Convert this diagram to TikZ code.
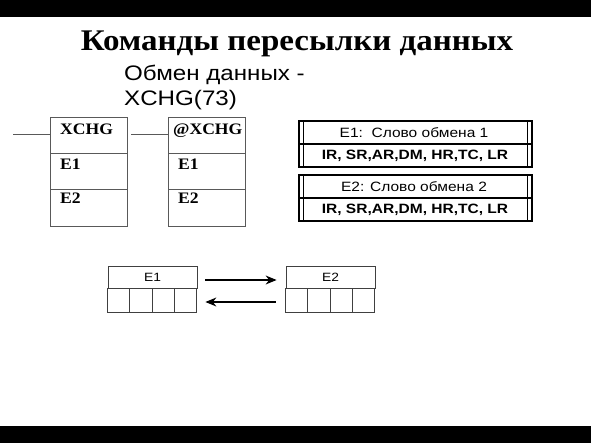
\documentclass[tikz,border=0pt]{standalone}
\usepackage{fontspec}
\setmainfont{Liberation Serif}
\setsansfont{Liberation Sans}
\newfontfamily\wideserif[FakeStretch=1.1]{Liberation Serif}
\newfontfamily\widesans[FakeStretch=1.15]{Liberation Sans}
\usetikzlibrary{arrows.meta,calc}

\begin{document}
\begin{tikzpicture}[x=1pt,y=-1pt,
    fbd/.style={draw=black!65, line width=0.9pt},
    word/.style={draw=black, line width=1.3pt},
    lbl/.style={font=\wideserif\bfseries\fontsize{16}{16}\selectfont, anchor=base west, inner sep=0pt},
    hdr/.style={draw=black!75, line width=0.8pt, minimum width=89pt, minimum height=22pt, inner sep=0pt, font=\widesans\fontsize{12}{12}\selectfont},
    arr/.style={line width=1.2pt, -{Stealth[length=11pt,width=9pt]}}]
    \useasboundingbox (0,0) rectangle (591,443);
    \fill[black] (0,0) rectangle (591,17);
    \fill[black] (0,426) rectangle (591,443);
    % headings
    \node[font=\wideserif\bfseries\fontsize{30}{30}\selectfont, anchor=base] (title) at (297,51) {Команды пересылки данных};
    \node[font=\widesans\fontsize{21}{25}\selectfont, anchor=north west, align=left, inner sep=0pt] (sub) at (124,65) {Обмен данных -\\XCHG(73)};
    % instruction blocks
    \foreach \x/\name/\dx [count=\i] in {50/XCHG/10, 168/@XCHG/5} {
      \draw[fbd] (\x,117) rectangle ++(77,109);
      \draw[fbd] (\x,153) -- ++(77,0);
      \draw[fbd] (\x,189) -- ++(77,0);
      \coordinate (rail\i) at (\x-37,134);
      \node[lbl] (op\i) at (\x+\dx,135) {\name};
      \node[lbl] (ea\i) at (\x+10,170) {E1};
      \node[lbl] (eb\i) at (\x+10,204) {E2};
      \draw[fbd] (rail\i) -- (\x,134);
    }
    % operand words
    \foreach \y/\t [count=\i] in {121/{E1:~~Слово обмена 1}, 175/{E2: Слово обмена 2}} {
      \draw[word] (299,\y) rectangle (532,\y+46);
      \draw[word] (303.5,\y) -- (303.5,\y+46);
      \draw[word] (527.5,\y) -- (527.5,\y+46);
      \draw[word] (299,\y+23) -- (532,\y+23);
      \node[font=\widesans\fontsize{13.5}{13.5}\selectfont] (cap\i) at (414,\y+11.5) {\t};
      \node[font=\widesans\bfseries\fontsize{13.5}{13.5}\selectfont] (area\i) at (415,\y+34.5) {IR, SR,AR,DM, HR,TC, LR};
    }
    % exchange
    \foreach \x/\t [count=\i] in {108/E1, 286/E2} {
      \node[hdr] (w\i) at (\x+44.5,277) {\t};
      \draw[black!75, line width=0.8pt] (w\i.south west) rectangle ++(89,24);
      \foreach \k in {1,2,3}
        \draw[black!75, line width=0.8pt] ($(w\i.south west)+(\k*22.25,0)$) -- ++(0,24);
    }
    \draw[arr] ([xshift=8pt,yshift=-3pt]w1.east) -- ([xshift=-9pt,yshift=-3pt]w2.west);
    \draw[arr] ([xshift=-10pt,yshift=-25pt]w2.west) -- ([xshift=8pt,yshift=-25pt]w1.east);
\end{tikzpicture}
\end{document}
